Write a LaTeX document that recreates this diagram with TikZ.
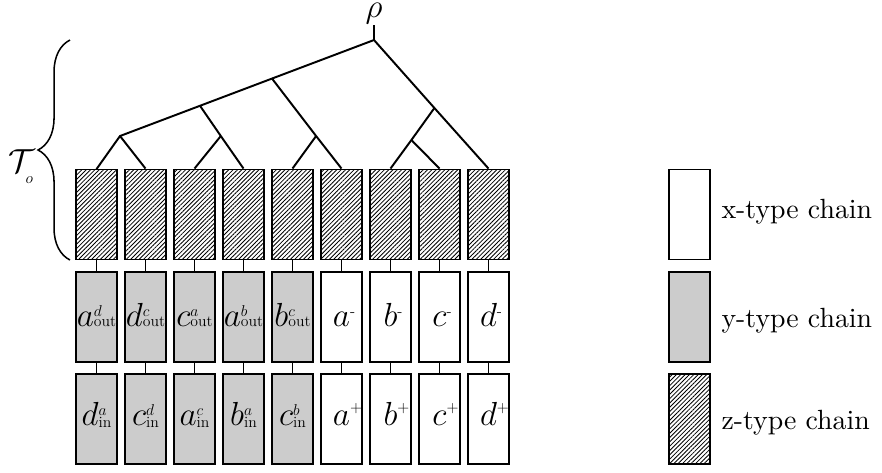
\documentclass[tikz,border=0pt]{standalone}
\usepackage{amsmath}
\usetikzlibrary{patterns.meta,decorations.pathreplacing}
\newcommand{\sm}[1]{\scalebox{0.47}{#1}}
\newcommand{\ylab}[4][0pt]{$#2$\rlap{\raisebox{3.6pt}{\sm{$#3$}}}\raisebox{#1}{\sm{#4}}}
\newcommand{\xlab}[3]{$#1$\rlap{\raisebox{#3}{\sm{#2}}}}
\begin{document}
\begin{tikzpicture}[x=0.36pt,y=-0.36pt,
 box/.style={draw,line width=0.7pt,minimum width=14.76pt,minimum height=32.4pt,inner sep=0pt,font=\fontsize{12}{14}\selectfont},
 xbox/.style={box,fill=white},
 ybox/.style={box,fill=black!20},
 zbox/.style={box,pattern={Lines[angle=45,distance=1.1pt,line width=0.3pt]}},
 midrow/.style={text height=6.5pt,text depth=0pt},
 lowrow/.style={text height=5pt,text depth=0pt},
 link/.style={line width=0.7pt},
 legend/.style={anchor=base west,inner sep=0pt,font=\fontsize{10}{12}\selectfont},
 bigmath/.style={inner sep=0pt,font=\fontsize{12}{14}\selectfont}]
\useasboundingbox (0,0) rectangle (882,472);
% z-type row
\node[zbox] (z1) at (96.5,214.5) {};
\node[zbox] (z2) at (145.5,214.5) {};
\node[zbox] (z3) at (194.5,214.5) {};
\node[zbox] (z4) at (243.5,214.5) {};
\node[zbox] (z5) at (292.5,214.5) {};
\node[zbox] (z6) at (341.5,214.5) {};
\node[zbox] (z7) at (390.5,214.5) {};
\node[zbox] (z8) at (439.5,214.5) {};
\node[zbox] (z9) at (488.5,214.5) {};
% middle row
\node[ybox,midrow] (m1) at (96.5,317) {\ylab{a}{d}{out}};
\node[ybox,midrow] (m2) at (145.5,317) {\ylab{d}{c}{out}};
\node[ybox,midrow] (m3) at (194.5,317) {\ylab{c}{a}{out}};
\node[ybox,midrow] (m4) at (243.5,317) {\ylab{a}{b}{out}};
\node[ybox,midrow] (m5) at (292.5,317) {\ylab{b}{c}{out}};
\node[xbox,midrow] (m6) at (341.5,317) {\xlab{a}{-}{3.6pt}};
\node[xbox,midrow] (m7) at (390.5,317) {\xlab{b}{-}{3.6pt}};
\node[xbox,midrow] (m8) at (439.5,317) {\xlab{c}{-}{3.6pt}};
\node[xbox,midrow] (m9) at (488.5,317) {\xlab{d}{-}{3.6pt}};
% bottom row
\node[ybox,lowrow] (b1) at (96.5,419) {\ylab[-0.4pt]{d}{a}{in}};
\node[ybox,lowrow] (b2) at (145.5,419) {\ylab[-0.4pt]{c}{d}{in}};
\node[ybox,lowrow] (b3) at (194.5,419) {\ylab[-0.4pt]{a}{c}{in}};
\node[ybox,lowrow] (b4) at (243.5,419) {\ylab[-0.4pt]{b}{a}{in}};
\node[ybox,lowrow] (b5) at (292.5,419) {\ylab[-0.4pt]{c}{b}{in}};
\node[xbox,lowrow] (b6) at (341.5,419) {\xlab{a}{$+$}{4.8pt}};
\node[xbox,lowrow] (b7) at (390.5,419) {\xlab{b}{$+$}{4.8pt}};
\node[xbox,lowrow] (b8) at (439.5,419) {\xlab{c}{$+$}{4.8pt}};
\node[xbox,lowrow] (b9) at (488.5,419) {\xlab{d}{$+$}{4.8pt}};
\foreach \i in {1,...,9} {
  \draw[link] (z\i) -- (m\i);
  \draw[link] (m\i) -- (b\i);
}
% tree
\node[bigmath,anchor=base] (rho) at (374,17) {$\rho$};
\coordinate (top) at (374,25);
\coordinate (R) at (374,40);
\coordinate (P1) at (272,78.55);
\coordinate (P2) at (200,105.76);
\coordinate (A) at (120,136);
\coordinate (B) at (220.8,136);
\coordinate (C) at (316.1,136);
\coordinate (E) at (434.4,108);
\coordinate (D) at (411.4,140);
\draw[link] (top) -- (R) -- (P1) -- (P2) -- (A) -- (z1.north);
\draw[link] (A) -- (z2.north);
\draw[link] (P2) -- (B) -- (z4.north);
\draw[link] (B) -- (z3.north);
\draw[link] (P1) -- (C) -- (z6.north);
\draw[link] (C) -- (z5.north);
\draw[link] (R) -- (E) -- (z9.north);
\draw[link] (E) -- (D) -- (z7.north);
\draw[link] (D) -- (z8.north);
% brace
\coordinate (brb) at (70,260);
\coordinate (brt) at (70,40);
\draw[line width=0.55pt,decorate,decoration={brace,amplitude=11.5pt}] (brb) -- (brt);
\node[bigmath,anchor=base west] (To) at (8,172) {$\mathcal{T}$\kern-3.4pt\raisebox{-4pt}{\sm{$o$}}};
% legend
\node[xbox] (lx) at (689.5,214.5) {};
\node[ybox] (ly) at (689.5,317) {};
\node[zbox] (lz) at (689.5,419) {};
\node[legend] (tx) at (721,218.5) {x-type chain};
\node[legend] (ty) at (721,327) {y-type chain};
\node[legend] (tz) at (721,429) {z-type chain};
\end{tikzpicture}
\end{document}
